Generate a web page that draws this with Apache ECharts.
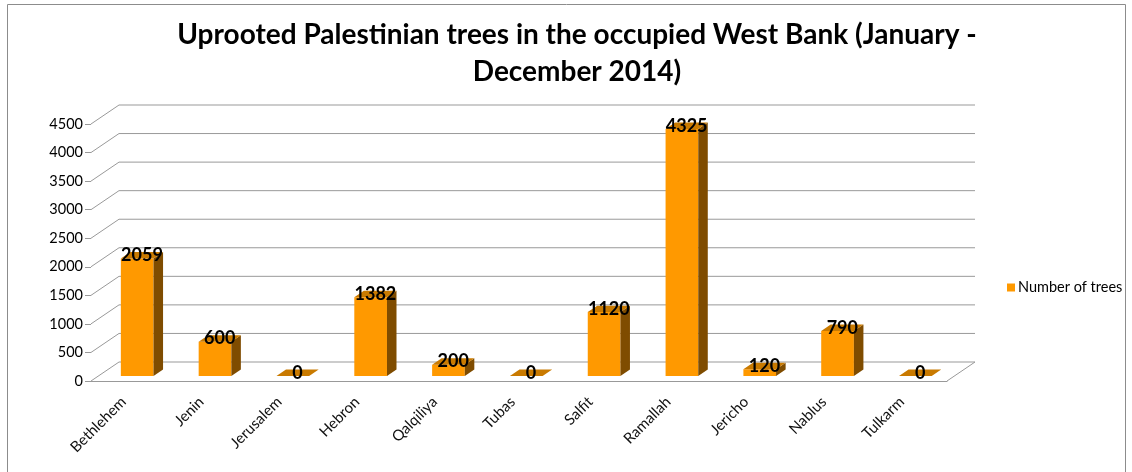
<!DOCTYPE html>
<html>
<head>
<meta charset="utf-8">
<script src="https://cdn.jsdelivr.net/npm/echarts@6/dist/echarts.min.js"></script>
<style>
  html, body { margin: 0; padding: 0; background: #fff; }
  #chart { width: 1132px; height: 472px; }
</style>
</head>
<body>
<div id="chart"></div>
<script>
const cities = ['Bethlehem', 'Jenin', 'Jerusalem', 'Hebron', 'Qalqiliya', 'Tubas', 'Salfit', 'Ramallah', 'Jericho', 'Nablus', 'Tulkarm']
const trees = [2059, 600, 0, 1382, 200, 0, 1120, 4325, 120, 790, 0]
const yTicks = [0, 500, 1000, 1500, 2000, 2500, 3000, 3500, 4000, 4500]

// depth of the fake 3d floor (back wall offset)
const DX = 28
const DY = -19
const F0 = 0.26
const F1 = 0.6

const chart = echarts.init(document.getElementById('chart'))

const option = {
  animation: false,
  title: {
    text: 'Uprooted Palestinian trees in the occupied West Bank (January -\nDecember 2014)',
    left: 572,
    top: 11,
    textAlign: 'center',
    textStyle: {
      fontFamily: 'Lato',
      fontWeight: 'bold',
      fontSize: 28,
      lineHeight: 37,
      color: '#000'
    }
  },
  legend: {
    left: 1002,
    top: 275,
    itemWidth: 8,
    itemHeight: 8,
    itemGap: 4,
    textStyle: { fontFamily: 'Lato', fontSize: 14.5, color: '#000', padding: [0, 0, 0, -2] },
    data: [{ name: 'Number of trees', icon: 'rect', itemStyle: { color: '#ff9900' } }]
  },
  graphic: [{
    type: 'rect',
    shape: { x: 7.5, y: 4.5, width: 1118, height: 475 },
    style: { fill: 'none', stroke: '#8c8c8c', lineWidth: 1 },
    silent: true
  }],
  grid: { left: 91, right: 185, top: 124, bottom: 91 },
  xAxis: {
    type: 'category',
    data: cities,
    boundaryGap: true,
    axisLine: { lineStyle: { color: '#999' } },
    axisTick: { length: 6, lineStyle: { color: '#999' } },
    axisLabel: { rotate: 45, margin: 12, padding: [0, 9, 0, 0], fontFamily: 'Lato', fontSize: 15, color: '#111' }
  },
  yAxis: {
    type: 'value',
    min: 0,
    max: 4500,
    interval: 500,
    axisLine: { show: false },
    axisTick: { show: true, length: 6, lineStyle: { color: '#999' } },
    axisLabel: { margin: 8, fontFamily: 'Lato', fontSize: 14.5, color: '#000', formatter: v => String(v) },
    splitLine: { show: false }
  },
  series: [
    {
      // floor + back wall lines
      type: 'custom',
      silent: true,
      data: yTicks.map(v => [0, v]),
      z: 1,
      renderItem: function (params, api) {
        const cs = params.coordSys
        const v = api.value(1)
        const y = api.coord([0, v])[1]
        const left = cs.x
        const right = cs.x + cs.width
        const children = [
          { type: 'line', shape: { x1: left, y1: y, x2: left + DX, y2: y + DY }, style: { stroke: '#999', lineWidth: 1 } },
          { type: 'line', shape: { x1: left + DX, y1: y + DY, x2: right + DX, y2: y + DY }, style: { stroke: '#999', lineWidth: 1 } }
        ]
        if (v === 0) {
          children.push({ type: 'line', shape: { x1: right, y1: y, x2: right + DX, y2: y + DY }, style: { stroke: '#999', lineWidth: 1 } })
        }
        return { type: 'group', children: children }
      }
    },
    {
      name: 'Number of trees',
      type: 'custom',
      data: trees.map((v, i) => [i, v]),
      z: 2,
      itemStyle: { color: '#ff9900' },
      renderItem: function (params, api) {
        const i = api.value(0)
        const v = api.value(1)
        const base = api.coord([i, 0])
        const topPt = api.coord([i, v])
        const band = api.size([1, 0])[0]
        const w = band * 0.42
        const x0 = base[0] - w / 2 + F0 * DX
        const x1 = x0 + w
        const yb = base[1] + F0 * DY
        const yt = topPt[1] + F0 * DY
        const sdx = (F1 - F0) * DX
        const sdy = (F1 - F0) * DY
        const children = []
        if (v > 0) {
          children.push({ type: 'rect', shape: { x: x0, y: yt, width: w, height: yb - yt }, style: { fill: '#ff9900' } })
          children.push({
            type: 'polygon',
            shape: { points: [[x1, yt], [x1 + sdx, yt + sdy], [x1 + sdx, yb + sdy], [x1, yb]] },
            style: { fill: '#7f4c00' }
          })
        }
        children.push({
          type: 'polygon',
          shape: { points: [[x0, yt], [x1, yt], [x1 + sdx, yt + sdy], [x0 + sdx, yt + sdy]] },
          style: { fill: '#c97a00' }
        })
        children.push({
          type: 'text',
          style: {
            text: String(v),
            x: x0 + w / 2 + sdx / 2,
            y: yt + sdy / 2,
            align: 'center',
            verticalAlign: 'middle',
            font: 'bold 18px Lato',
            fill: '#000'
          }
        })
        return { type: 'group', children: children }
      }
    }
  ]
}

chart.setOption(option)
</script>
</body>
</html>
